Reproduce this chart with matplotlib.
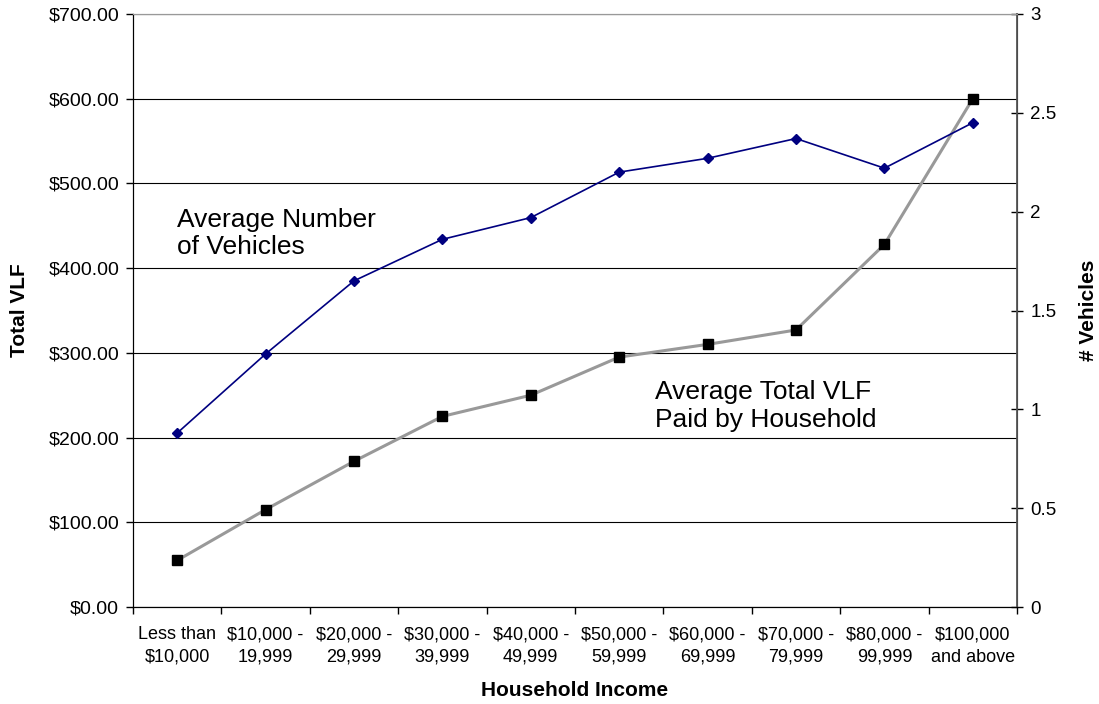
import numpy as np
import matplotlib.pyplot as plt
import matplotlib as mpl

plt.rcParams['font.family'] = ['Liberation Sans', 'DejaVu Sans']

# Data
categories = ['Less than\n$10,000', '$10,000 -\n19,999', '$20,000 -\n29,999',
              '$30,000 -\n39,999', '$40,000 -\n49,999', '$50,000 -\n59,999',
              '$60,000 -\n69,999', '$70,000 -\n79,999', '$80,000 -\n99,999',
              '$100,000\nand above']
total_vlf = [55, 115, 172, 225, 250, 295, 310, 327, 428, 600]
vehicles = [0.88, 1.28, 1.65, 1.86, 1.97, 2.20, 2.27, 2.37, 2.22, 2.45]
vlf_ticks = np.arange(0, 701, 100)
veh_ticks = np.arange(0, 3.01, 0.5)

fig = plt.figure(figsize=(10.99, 7.04), dpi=100)
ax1 = fig.add_axes([133/1099, 1-607/704, 884/1099, 593/704])
ax2 = ax1.twinx()

x = np.arange(len(categories))

# Lines
ax1.plot(x, total_vlf, color='#999999', lw=2.2, marker='s', ms=7,
         mfc='black', mec='black', zorder=3)
ax2.plot(x, vehicles, color='#000080', lw=1.2, marker='D', ms=5,
         mfc='#000080', mec='#000080', zorder=3)

# Left axis
ax1.set_ylim(0, 700)
ax1.set_yticks(vlf_ticks)
ax1.set_yticklabels(['${:.2f}'.format(v) for v in vlf_ticks])
ax1.yaxis.grid(True, color='black', lw=0.8)
ax1.set_axisbelow(True)
ax1.set_ylabel('Total VLF', fontsize=15, fontweight='bold', va='center')
ax1.yaxis.set_label_coords(-0.128, 0.5)

# Right axis
ax2.set_ylim(0, 3)
ax2.set_yticks(veh_ticks)
ax2.set_yticklabels(['{:g}'.format(v) for v in veh_ticks])
ax2.set_ylabel('# Vehicles', fontsize=15, fontweight='bold', va='center')
ax2.yaxis.set_label_coords(1.081, 0.5)
ax2.tick_params(axis='y', direction='inout', length=9, width=1, labelsize=13.5, pad=5)

# X axis
ax1.set_xlim(-0.5, len(categories) - 0.5)
ax1.set_xticks(np.arange(-0.5, len(categories), 1.0))
ax1.set_xticklabels([])
ax1.set_xticks(x, minor=True)
ax1.set_xticklabels(categories, minor=True, fontsize=13, linespacing=1.4)
ax1.tick_params(axis='x', which='major', direction='out', length=5, width=1)
ax1.tick_params(axis='x', which='minor', length=0, pad=14)
ax1.tick_params(axis='y', direction='out', length=5, width=1, labelsize=14, pad=5)
ax1.set_xlabel('Household Income', fontsize=15, fontweight='bold', va='center')
ax1.xaxis.set_label_coords(0.5, -0.14)

for sp in ['left', 'bottom']:
    ax1.spines[sp].set_color('black')
ax1.spines['top'].set_color('#999999')
ax2.spines['top'].set_color('#999999')
ax2.spines['right'].set_color('#555555')
ax2.spines['right'].set_linewidth(1.3)

# Annotations
ax1.text(0, 441, 'Average Number\nof Vehicles', fontsize=19, linespacing=1.2,
         ha='left', va='center')
ax1.text(5.4, 237, 'Average Total VLF\nPaid by Household', fontsize=19,
         linespacing=1.2, ha='left', va='center')

fig.savefig('out.png', dpi=100)
